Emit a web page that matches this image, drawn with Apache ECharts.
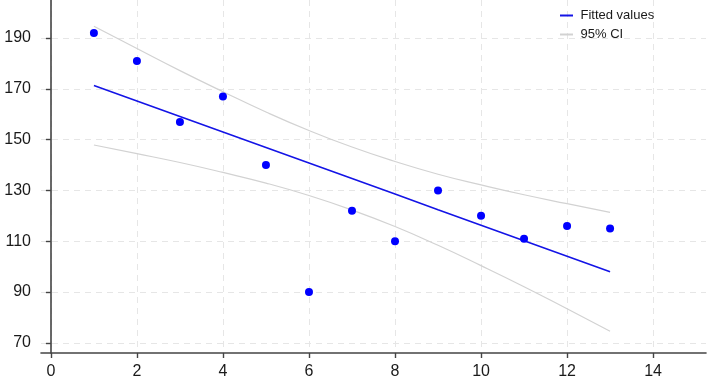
<!DOCTYPE html>
<html>
<head>
<meta charset="utf-8">
<style>
  html, body { margin: 0; padding: 0; background: #fff; }
  #chart { width: 714px; height: 384px; }
</style>
<script src="https://cdn.jsdelivr.net/npm/echarts@6/dist/echarts.min.js"></script>
</head>
<body>
<div id="chart"></div>
<script>
// observed points
const xs = [1, 2, 3, 4, 5, 6, 7, 8, 9, 10, 11, 12, 13];
const ys = [192, 181, 157, 167, 140, 90, 122, 110, 130, 120, 111, 116, 115];

// fitted line and 95% CI at each x
const fitted = [171.3, 165.2, 159.1, 153.0, 146.9, 140.8, 134.7, 128.6, 122.4, 116.3, 110.2, 104.1, 98.0];
const ciUpper = [194.7, 185.9, 177.2, 168.9, 160.9, 153.6, 147.1, 141.4, 136.4, 132.2, 128.3, 124.8, 121.4];
const ciLower = [147.9, 144.5, 141.0, 137.1, 132.9, 128.0, 122.3, 115.8, 108.4, 100.4, 92.1, 83.4, 74.6];

const xTicks = [0, 2, 4, 6, 8, 10, 12, 14];
const yTicks = [70, 90, 110, 130, 150, 170, 190];

const pairs = (a, b) => a.map((v, i) => [v, b[i]]);

const chart = echarts.init(document.getElementById('chart'));

const axisCommon = {
  type: 'value',
  axisLine: { show: true, lineStyle: { color: '#444', width: 1.6 } },
  axisTick: { show: true, inside: false, length: 5, lineStyle: { color: '#444', width: 1.4 } },
  axisLabel: { color: '#1a1a1a', fontFamily: 'Liberation Sans', fontSize: 16 },
  splitLine: { show: true, lineStyle: { color: '#e6e6e6', type: [6, 5], width: 1 } }
};

chart.setOption({
  animation: false,
  grid: { left: 41, right: 8, top: 0, bottom: 31 },
  legend: {
    orient: 'vertical',
    left: 555,
    top: 4,
    itemWidth: 13,
    itemHeight: 2,
    itemGap: 6,
    icon: 'rect',
    textStyle: { fontFamily: 'Liberation Sans', fontSize: 13, color: '#1a1a1a', padding: [0, 0, 0, 2.5] },
    data: ['Fitted values', '95% CI']
  },
  xAxis: Object.assign({}, axisCommon, {
    min: -0.23,
    max: 15.23,
    axisTick: Object.assign({}, axisCommon.axisTick, { customValues: xTicks }),
    axisLabel: Object.assign({}, axisCommon.axisLabel, { customValues: xTicks, margin: 11 })
  }),
  yAxis: Object.assign({}, axisCommon, {
    min: 66,
    max: 205,
    axisTick: Object.assign({}, axisCommon.axisTick, { customValues: yTicks }),
    axisLabel: Object.assign({}, axisCommon.axisLabel, { customValues: yTicks, margin: 10 })
  }),
  series: [
    {
      name: '95% CI',
      type: 'line',
      data: pairs(xs, ciUpper),
      smooth: true,
      symbol: 'none',
      lineStyle: { color: '#d2d2d2', width: 1.2 },
      itemStyle: { color: '#d2d2d2' },
      z: 2
    },
    {
      name: '95% CI',
      type: 'line',
      data: pairs(xs, ciLower),
      smooth: true,
      symbol: 'none',
      lineStyle: { color: '#d2d2d2', width: 1.2 },
      itemStyle: { color: '#d2d2d2' },
      z: 2
    },
    {
      name: 'Fitted values',
      type: 'line',
      data: pairs(xs, fitted),
      symbol: 'none',
      lineStyle: { color: '#1414e6', width: 1.6 },
      itemStyle: { color: '#1414e6' },
      z: 3
    },
    {
      name: 'y',
      type: 'scatter',
      data: pairs(xs, ys),
      symbolSize: 8,
      itemStyle: { color: '#0000ff', opacity: 1 },
      z: 4
    }
  ]
});
</script>
</body>
</html>
